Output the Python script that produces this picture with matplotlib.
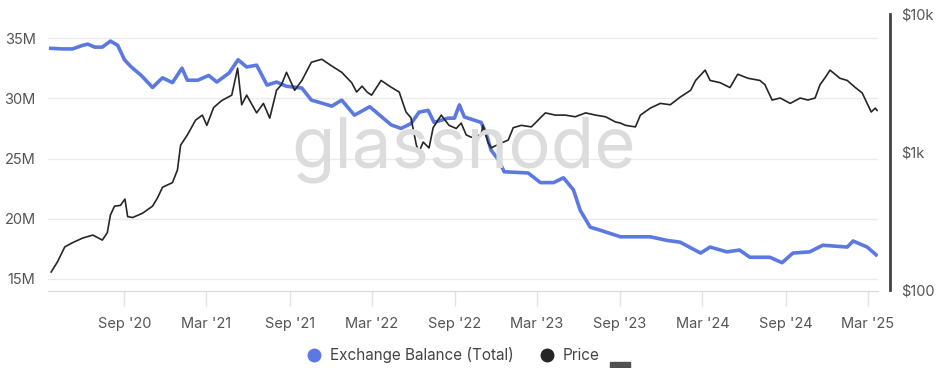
"""
Exchange balance (total) vs price, glassnode style.
Dual axis: balance on the left (linear), price on the right (log).
"""

import pandas as pd
import matplotlib
matplotlib.use("Agg")
import matplotlib.pyplot as plt
import matplotlib.dates as mdates
from matplotlib.lines import Line2D
from matplotlib.patches import Rectangle

# ---------------------------------------------------------------------------
# Data
# ---------------------------------------------------------------------------

balance_dates = [
    "2020-03-22", "2020-04-18", "2020-05-09", "2020-06-01", "2020-06-12",
    "2020-06-27", "2020-07-14", "2020-08-01", "2020-08-17", "2020-09-01",
    "2020-09-16", "2020-10-08", "2020-11-02", "2020-11-24", "2020-12-16",
    "2021-01-06", "2021-01-18", "2021-02-10", "2021-03-06", "2021-03-24",
    "2021-04-20", "2021-05-10", "2021-05-29", "2021-06-20", "2021-07-13",
    "2021-08-03", "2021-08-25", "2021-09-28", "2021-10-19", "2021-11-11",
    "2021-12-03", "2021-12-25", "2022-01-22", "2022-02-25", "2022-04-13",
    "2022-05-05", "2022-05-27", "2022-06-14", "2022-07-04", "2022-07-17",
    "2022-08-17", "2022-08-31", "2022-09-11", "2022-09-22", "2022-10-29",
    "2022-11-09", "2022-11-20", "2022-12-06", "2022-12-19", "2023-02-10",
    "2023-03-09", "2023-04-07", "2023-04-29", "2023-05-21", "2023-06-05",
    "2023-06-27", "2023-07-19", "2023-09-02", "2023-11-07", "2023-12-14",
    "2024-01-12", "2024-02-26", "2024-03-18", "2024-04-24", "2024-05-22",
    "2024-06-14", "2024-07-28", "2024-08-24", "2024-09-17", "2024-10-24",
    "2024-11-22", "2025-01-15", "2025-01-28", "2025-02-28", "2025-03-20",
]
balance_m = [
    34.15, 34.1, 34.1, 34.4, 34.5,
    34.25, 34.25, 34.75, 34.4, 33.2,
    32.6, 31.9, 30.9, 31.7, 31.3,
    32.5, 31.5, 31.5, 31.9, 31.35,
    32.1, 33.2, 32.6, 32.75, 31.1,
    31.35, 31.0, 30.85, 29.85, 29.6,
    29.35, 29.85, 28.6, 29.3, 27.8,
    27.5, 27.9, 28.85, 29.0, 28.0,
    28.35, 28.35, 29.45, 28.45, 28.0,
    27.1, 25.7, 24.9, 23.9, 23.8,
    23.0, 23.0, 23.4, 22.4, 20.7,
    19.3, 19.05, 18.5, 18.5, 18.2,
    18.05, 17.15, 17.65, 17.25, 17.4,
    16.8, 16.8, 16.35, 17.15, 17.25,
    17.8, 17.65, 18.15, 17.65, 17.0,
]

price_dates = [
    "2020-03-23", "2020-04-06", "2020-04-22", "2020-05-09", "2020-06-01",
    "2020-06-23", "2020-07-14", "2020-07-25", "2020-08-01", "2020-08-10",
    "2020-08-23", "2020-09-02", "2020-09-08", "2020-09-19", "2020-10-11",
    "2020-11-02", "2020-11-13", "2020-11-24", "2020-12-16", "2020-12-27",
    "2021-01-03", "2021-01-18", "2021-02-05", "2021-02-20", "2021-03-02",
    "2021-03-17", "2021-04-04", "2021-04-26", "2021-05-09", "2021-05-18",
    "2021-05-29", "2021-06-20", "2021-07-05", "2021-07-19", "2021-08-03",
    "2021-08-14", "2021-08-25", "2021-09-12", "2021-09-28", "2021-10-19",
    "2021-11-11", "2021-12-03", "2021-12-25", "2022-01-16", "2022-01-27",
    "2022-02-08", "2022-02-19", "2022-03-01", "2022-03-22", "2022-04-13",
    "2022-05-01", "2022-05-16", "2022-05-27", "2022-06-08", "2022-06-14",
    "2022-06-23", "2022-07-06", "2022-07-15", "2022-08-02", "2022-08-19",
    "2022-09-04", "2022-09-15", "2022-09-26", "2022-10-07", "2022-10-29",
    "2022-11-02", "2022-11-14", "2022-11-20", "2022-12-12", "2022-12-28",
    "2023-01-08", "2023-01-26", "2023-02-17", "2023-02-28", "2023-03-09",
    "2023-03-20", "2023-04-11", "2023-05-03", "2023-05-25", "2023-06-17",
    "2023-07-09", "2023-07-31", "2023-08-22", "2023-09-02", "2023-09-13",
    "2023-10-05", "2023-10-16", "2023-11-07", "2023-11-29", "2023-12-21",
    "2024-01-12", "2024-02-04", "2024-02-15", "2024-03-07", "2024-03-18",
    "2024-04-09", "2024-05-01", "2024-05-18", "2024-06-10", "2024-07-06",
    "2024-07-17", "2024-08-02", "2024-08-20", "2024-09-11", "2024-10-03",
    "2024-10-20", "2024-11-05", "2024-11-16", "2024-11-27", "2024-12-08",
    "2024-12-30", "2025-01-15", "2025-02-02", "2025-02-17", "2025-02-28",
    "2025-03-09", "2025-03-18", "2025-03-22",
]
price_usd = [
    135, 160, 205, 220, 238,
    250, 230, 260, 350, 405,
    410, 456, 340, 335, 360,
    405, 465, 555, 600, 740,
    1120, 1330, 1700, 1850, 1560,
    2100, 2360, 2580, 4050, 2200,
    2580, 1920, 2250, 1760, 2800,
    3080, 3780, 2800, 3300, 4470,
    4700, 4200, 3780, 3180, 2720,
    3000, 2720, 2580, 3300, 2950,
    2720, 1950, 1770, 1120, 1000,
    1180, 1070, 1500, 1850, 1560,
    1480, 1620, 1330, 1280, 1330,
    1560, 1160, 1070, 1160, 1220,
    1500, 1560, 1520, 1650, 1770,
    1920, 1850, 1850, 1800, 1920,
    1850, 1800, 1650, 1620, 1560,
    1520, 1850, 2080, 2250, 2200,
    2500, 2800, 3300, 3920, 3300,
    3180, 2930, 3660, 3420, 3300,
    3080, 2380, 2460, 2250, 2460,
    2380, 2460, 3080, 3450, 3920,
    3420, 3300, 2930, 2680, 2250,
    1950, 2080, 2000,
]

left_ticks = [15, 20, 25, 30, 35]
left_labels = ["15M", "20M", "25M", "30M", "35M"]
right_ticks = [100, 1000, 10000]
right_labels = ["$100", "$1k", "$10k"]
month_ticks = pd.date_range("2020-09-01", "2025-03-01", freq="6MS")

BLUE = "#5b79e1"
DARK = "#262626"
GRID = "#ebebeb"
TEXT = "#555555"

# ---------------------------------------------------------------------------
# Figure
# ---------------------------------------------------------------------------

plt.rcParams["font.family"] = ["Inter", "DejaVu Sans"]

fig = plt.figure(figsize=(9.48, 3.68), dpi=100)
ax = fig.add_axes([48 / 948, 1 - 291 / 368, 830 / 948, 277 / 368])
ax2 = ax.twinx()

# watermark
fig.text(464 / 948, 1 - 150 / 368, "glassnode", fontsize=51, color="#dcdcdc",
         ha="center", va="center", zorder=0)

ax.plot(pd.to_datetime(balance_dates), balance_m, color=BLUE, lw=2.6,
        solid_joinstyle="round", zorder=3)
ax2.plot(pd.to_datetime(price_dates), price_usd, color=DARK, lw=1.2, zorder=4)

# left axis
ax.set_ylim(14.0, 37.0)
ax.set_yticks(left_ticks)
ax.set_yticklabels(left_labels)
ax.tick_params(axis="y", length=0, pad=9, labelsize=10.5, labelcolor=TEXT)
ax.grid(axis="y", color=GRID, lw=1)
ax.set_axisbelow(True)

# x axis
ax.set_xlim(pd.Timestamp("2020-03-16"), pd.Timestamp("2025-03-24"))
ax.set_xticks(month_ticks)
ax.xaxis.set_major_formatter(mdates.DateFormatter("%b '%y"))
ax.tick_params(axis="x", length=11, width=1, color="#e3e3e3", pad=8,
               labelsize=10.5, labelcolor=TEXT)

for side in ("left", "right", "top"):
    ax.spines[side].set_visible(False)
ax.spines["bottom"].set_color("#d9d9d9")

# right axis (log price)
ax2.set_yscale("log")
ax2.set_ylim(98.3, 10000)
ax2.set_yticks(right_ticks)
ax2.set_yticklabels(right_labels)
ax2.yaxis.set_minor_locator(matplotlib.ticker.NullLocator())
ax2.tick_params(axis="y", length=0, pad=8, labelsize=10.5, labelcolor=TEXT)
for side in ("left", "top", "bottom"):
    ax2.spines[side].set_visible(False)
ax2.spines["right"].set_position(("outward", 9))
ax2.spines["right"].set_color("#444444")
ax2.spines["right"].set_linewidth(2)
ax2.spines["right"].set_bounds(100, 10000)

# legend
handles = [
    Line2D([], [], marker="o", ls="", color=BLUE, markersize=9),
    Line2D([], [], marker="o", ls="", color=DARK, markersize=9),
]
fig.legend(handles, ["Exchange Balance (Total)", "Price"], loc="center",
           bbox_to_anchor=(449 / 948, 1 - 355 / 368), ncol=2, frameon=False,
           fontsize=11, handletextpad=0.0, columnspacing=1.2,
           labelcolor="#444444")

# small tab cut off at the bottom edge
fig.patches.append(Rectangle((610 / 948, 0), 20 / 948, 6 / 368,
                             transform=fig.transFigure, color="#505050"))

fig.savefig("out.png", dpi=100)
